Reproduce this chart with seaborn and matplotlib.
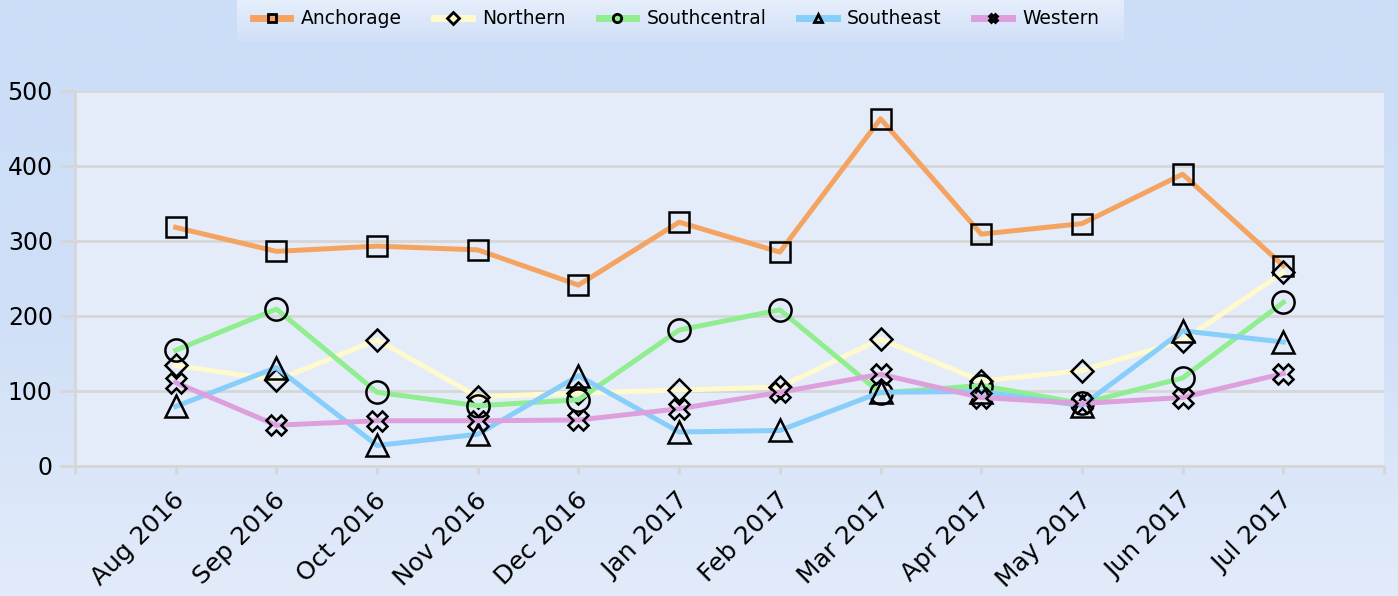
import numpy as np
import pandas as pd
import matplotlib
matplotlib.use("Agg")
import matplotlib.pyplot as plt
import matplotlib.transforms as mtransforms
from matplotlib.colors import LinearSegmentedColormap
from matplotlib.lines import Line2D
import seaborn as sns

# Monthly values per region
months = ["Aug 2016", "Sep 2016", "Oct 2016", "Nov 2016", "Dec 2016", "Jan 2017",
          "Feb 2017", "Mar 2017", "Apr 2017", "May 2017", "Jun 2017", "Jul 2017"]
regions = ["Anchorage", "Northern", "Southcentral", "Southeast", "Western"]
anchorage = [318, 286, 293, 288, 241, 325, 285, 463, 309, 323, 389, 267]
northern = [134, 114, 168, 92, 97, 101, 105, 169, 113, 127, 167, 258]
southcentral = [154, 209, 98, 80, 88, 181, 208, 97, 107, 83, 117, 218]
southeast = [79, 131, 27, 42, 120, 45, 47, 98, 99, 80, 180, 165]
western = [111, 54, 60, 60, 61, 76, 98, 122, 91, 83, 91, 123]

series = [anchorage, northern, southcentral, southeast, western]
colors = ["#F4A460", "#FFFACD", "#90EE90", "#87CEFA", "#DDA0DD"]
markers = ["s", "D", "o", "^", "X"]
msizes = [15, 11, 16, 16, 14]

df = pd.DataFrame({
    "pos": np.tile(np.arange(len(months)), len(regions)),
    "month": months * len(regions),
    "region": np.repeat(regions, len(months)),
    "value": np.concatenate(series),
})

plt.rcParams["font.family"] = ["DejaVu Sans"]

W, H = 1398, 596
fig = plt.figure(figsize=(W / 100, H / 100), dpi=100)

# Figure background gradient
bg = fig.add_axes([0, 0, 1, 1], zorder=-10)
grad = np.linspace(0, 1, 256).reshape(-1, 1)
bg_cmap = LinearSegmentedColormap.from_list("bg", ["#CCDDF7", "#CFDFF7", "#E2EBFA"])
bg.imshow(grad, aspect="auto", cmap=bg_cmap, extent=[0, 1, 0, 1], origin="upper")
bg.set_axis_off()

# Legend panel gradient
lg = fig.add_axes([237 / W, (H - 42) / H, (1124 - 237) / W, 42 / H], zorder=-5)
lg_cmap = LinearSegmentedColormap.from_list("lg", ["#E6EEFB", "#D0E0F8"])
lg.imshow(grad, aspect="auto", cmap=lg_cmap, extent=[0, 1, 0, 1], origin="upper")
lg.set_axis_off()

left, right, top, bottom = 75, 1384, 91, 465.7
ax = fig.add_axes([left / W, (H - bottom) / H, (right - left) / W, (bottom - top) / H])
ax.set_facecolor("#E5ECF9")

for reg, col, mk, ms in zip(regions, colors, markers, msizes):
    sub = df[df["region"] == reg]
    sns.lineplot(data=sub, x="pos", y="value", ax=ax, color=col, linewidth=3.6,
                 marker=mk, markersize=ms, markerfacecolor="none",
                 markeredgecolor="black", markeredgewidth=1.8, legend=False)

ax.set_xlim(-1, len(months))
ax.set_ylim(0, 500)
ax.set_xticks(np.arange(-1, len(months) + 1))
ax.set_xticklabels([""] + months + [""], rotation=45, ha="right", fontsize=18)
ax.set_yticks(np.arange(0, 501, 100))
ax.set_yticklabels([str(v) for v in range(0, 501, 100)], fontsize=17)
ax.set_xlabel("")
ax.set_ylabel("")

grid_col = "#D6D6D6"
ax.yaxis.grid(True, color=grid_col, linewidth=2)
ax.xaxis.grid(False)
ax.set_axisbelow(True)
for s in ["top", "right"]:
    ax.spines[s].set_visible(False)
for s in ["left", "bottom"]:
    ax.spines[s].set_color(grid_col)
    ax.spines[s].set_linewidth(2)
ax.tick_params(axis="y", length=11, width=2, color=grid_col, pad=5, labelcolor="black")
ax.tick_params(axis="x", length=6, width=2, color=grid_col, pad=10, labelcolor="black")

shift = mtransforms.ScaledTranslation(14 / 100, 0, fig.dpi_scale_trans)
for lab in ax.get_xticklabels():
    lab.set_transform(lab.get_transform() + shift)

handles = [Line2D([0], [0], color=c, linewidth=5, marker=m, markersize=6,
                  markerfacecolor="none", markeredgecolor="black", markeredgewidth=2)
           for c, m in zip(colors, markers)]
fig.legend(handles, regions, loc="center", bbox_to_anchor=(676 / W, (H - 19) / H),
           ncol=5, frameon=False, fontsize=13.5, handlelength=2.0, handletextpad=0.55,
           columnspacing=1.75)

fig.savefig("out.png", dpi=100)
